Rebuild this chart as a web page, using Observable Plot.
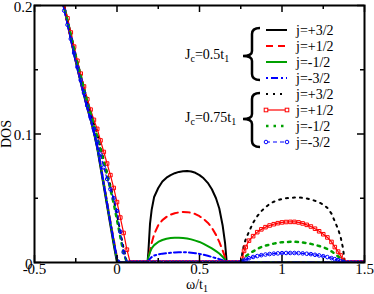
<!DOCTYPE html>
<html><head><meta charset="utf-8">
<script src="https://cdn.jsdelivr.net/npm/d3@7"></script>
<script src="https://cdn.jsdelivr.net/npm/@observablehq/plot@0.6"></script>
<style>
html,body{margin:0;padding:0;background:#fff;}
#chart{position:relative;width:374px;height:294px;}
</style></head><body><div id="chart"></div>
<script>
// ---------- data ----------
const omegaLeft = [-0.36,-0.34,-0.32,-0.30,-0.28,-0.26,-0.24,-0.22,-0.20,-0.18,-0.16,-0.14,-0.12,-0.10,-0.08,-0.06,-0.04,-0.02,0.00,0.02,0.04,0.06,0.08];
const omegaDomeA = [0.185,0.19,0.20,0.21,0.225,0.25,0.275,0.30,0.325,0.35,0.375,0.40,0.425,0.45,0.475,0.50,0.525,0.55,0.575,0.60,0.62,0.64,0.655,0.665];
const omegaDomeB = [0.753,0.76,0.77,0.78,0.80,0.825,0.85,0.875,0.90,0.925,0.95,0.975,1.00,1.025,1.05,1.075,1.10,1.125,1.15,1.175,1.20,1.225,1.25,1.275,1.30,1.32,1.34,1.355,1.37,1.38];
const omegaGap = [0.10,0.12,0.14,0.16,0.18,0.20,0.22,0.24,0.26,0.28,0.30,0.32,0.34,0.36,0.38,0.40,0.42,0.44,0.46,0.48,0.50,0.52,0.54,0.56,0.58,0.60,0.62,0.64,0.66,0.68,0.70,0.72,0.74];
const omegaTail = [1.40,1.42,1.44,1.46,1.48,1.50];

// Jc = 0.5 t1
const left05_p32 = [0.218,0.208,0.198,0.186,0.174,0.162,0.151,0.140,0.130,0.120,0.111,0.101,0.089,0.074,0.059,0.044,0.029,0.014,0,0,0,0,0];
const left05_p12 = [0.219,0.209,0.199,0.187,0.175,0.163,0.152,0.141,0.131,0.121,0.112,0.102,0.091,0.077,0.062,0.047,0.032,0.018,0.004,0,0,0,0];
const left05_m12 = [0.219,0.209,0.199,0.187,0.175,0.163,0.152,0.141,0.131,0.121,0.112,0.102,0.090,0.076,0.061,0.046,0.031,0.016,0.002,0,0,0,0];
const left05_m32 = [0.218,0.208,0.198,0.186,0.174,0.162,0.151,0.140,0.130,0.120,0.111,0.101,0.090,0.076,0.061,0.046,0.031,0.017,0.003,0,0,0,0];
const dome05_p32 = [0,0.008,0.030,0.041,0.051,0.058,0.063,0.066,0.068,0.0695,0.0705,0.071,0.0712,0.0708,0.0698,0.068,0.0655,0.062,0.057,0.050,0.042,0.029,0.015,0];
const dome05_p12 = [0,0.004,0.009,0.015,0.022,0.029,0.033,0.0355,0.0372,0.0383,0.039,0.0393,0.0392,0.0387,0.0377,0.036,0.0338,0.031,0.027,0.0215,0.016,0.0095,0.004,0];
const dome05_m12 = [0,0.004,0.008,0.011,0.0135,0.016,0.0175,0.0185,0.019,0.0193,0.0193,0.0191,0.0187,0.018,0.017,0.016,0.0145,0.0128,0.011,0.0088,0.007,0.0045,0.002,0];
const dome05_m32 = [0,0.0015,0.003,0.0042,0.0054,0.0063,0.0069,0.0073,0.0076,0.0078,0.0079,0.008,0.0079,0.0076,0.0072,0.0067,0.006,0.0052,0.0043,0.0034,0.0026,0.0017,0.0008,0];

// Jc = 0.75 t1
const left075_p32 = [0.220,0.210,0.200,0.189,0.178,0.167,0.156,0.146,0.136,0.126,0.117,0.108,0.100,0.090,0.080,0.070,0.060,0.049,0.037,0.024,0.011,0,0];
const left075_p12 = [0.221,0.211,0.201,0.190,0.179,0.168,0.157,0.147,0.137,0.127,0.119,0.111,0.104,0.095,0.086,0.077,0.068,0.058,0.047,0.035,0.023,0.010,0];
const left075_m12 = [0.219,0.209,0.199,0.188,0.177,0.166,0.155,0.145,0.135,0.125,0.116,0.107,0.098,0.088,0.078,0.068,0.057,0.046,0.033,0.020,0.007,0,0];
const left075_m32 = [0.216,0.206,0.196,0.185,0.174,0.163,0.152,0.142,0.132,0.122,0.113,0.104,0.094,0.084,0.074,0.065,0.057,0.050,0.040,0.024,0.008,0,0];
const dome075_p32 = [0,0.008,0.014,0.018,0.024,0.031,0.036,0.040,0.043,0.0456,0.0473,0.0485,0.0494,0.050,0.0503,0.0505,0.0506,0.0503,0.0498,0.049,0.048,0.0468,0.045,0.0425,0.038,0.032,0.026,0.020,0.011,0];
const dome075_p12 = [0,0.003,0.009,0.012,0.017,0.0205,0.0236,0.0258,0.0275,0.0288,0.0298,0.0306,0.0312,0.0315,0.0316,0.0316,0.0312,0.0304,0.0293,0.028,0.0263,0.0243,0.022,0.0195,0.016,0.012,0.0085,0.0055,0.002,0];
const dome075_m12 = [0,0.0015,0.0035,0.0048,0.0068,0.0087,0.0105,0.012,0.0131,0.0139,0.0147,0.0154,0.0158,0.016,0.0161,0.0161,0.016,0.0156,0.0151,0.0145,0.0137,0.0128,0.0119,0.0105,0.0087,0.0068,0.0047,0.003,0.0013,0];
const dome075_m32 = [0,0.0005,0.0015,0.0022,0.0033,0.0043,0.005,0.0057,0.0062,0.0066,0.0069,0.0071,0.0073,0.0074,0.0074,0.0074,0.0073,0.0071,0.0068,0.0065,0.006,0.0055,0.0049,0.0042,0.0034,0.0026,0.0018,0.0011,0.0005,0];

const xTicksMajor = [-0.5, 0, 0.5, 1, 1.5];
const xTicksMinor = [-0.25, 0.25, 0.75, 1.25];
const yTicksMajor = [0, 0.1, 0.2];
const yTicksMinor = [0.05, 0.15];
const jLabels = ["j=+3/2", "j=+1/2", "j=-1/2", "j=-3/2"];
const groupLabels = [["J","c","=0.5t","1"], ["J","c","=0.75t","1"]];

// ---------- build tables ----------
const pts = (ws, ds) => ws.map((w, i) => ({w, d: ds[i]}));
const zeros = ws => ws.map(w => ({w, d: 0}));
const s05 = (left, dome) => [...pts(omegaLeft, left), ...pts(omegaDomeA, dome), {w: 1.5, d: 0}];
const s075 = (left, dome) => [...pts(omegaLeft, left), ...zeros(omegaGap), ...pts(omegaDomeB, dome), ...zeros(omegaTail)];

const A_p32 = s05(left05_p32, dome05_p32);
const A_p12 = s05(left05_p12, dome05_p12);
const A_m12 = s05(left05_m12, dome05_m12);
const A_m32 = s05(left05_m32, dome05_m32);
const B_p32 = s075(left075_p32, dome075_p32);
const B_p12 = s075(left075_p12, dome075_p12);
const B_m12 = s075(left075_m12, dome075_m12);
const B_m32 = s075(left075_m32, dome075_m32);

const W = 374, H = 294, mL = 34, mR = 10, mT = 5, mB = 32;
const fw = W - mL - mR, fh = H - mT - mB;
const RED = "#ff0000", GREEN = "#00a000", BLUE = "#0000ff";
const FONT = "Liberation Serif, Times New Roman, serif";

const L = (data, o) => Plot.line(data, {x: "w", y: "d", clip: true, strokeLinejoin: "round", ...o});

const plot = Plot.plot({
  width: W, height: H,
  marginLeft: mL, marginRight: mR, marginTop: mT, marginBottom: mB,
  style: {fontFamily: FONT, fontSize: "15px", background: "#fff", color: "#000"},
  x: {domain: [-0.5, 1.5]},
  y: {domain: [0, 0.2]},
  marks: [
    L(A_p32, {stroke: "#000", strokeWidth: 2}),
    L(A_p12, {stroke: RED, strokeWidth: 2, strokeDasharray: "7,5"}),
    L(A_m12, {stroke: GREEN, strokeWidth: 2}),
    L(A_m32, {stroke: BLUE, strokeWidth: 2, strokeDasharray: "7,3,2,3"}),
    L(B_p32, {stroke: "#000", strokeWidth: 2, strokeDasharray: "2,5"}),
    L(B_p12, {stroke: RED, strokeWidth: 1.2}),
    Plot.dot(B_p12, {x: "w", y: "d", symbol: "square", r: 2, stroke: RED, strokeWidth: 1, fill: "none", clip: true}),
    L(B_m12, {stroke: GREEN, strokeWidth: 2.5, strokeDasharray: "2.5,5"}),
    L(B_m32, {stroke: BLUE, strokeWidth: 1.2, strokeDasharray: "4,3"}),
    Plot.dot(B_m32, {x: "w", y: "d", r: 1.8, stroke: BLUE, strokeWidth: 1, fill: "none", clip: true}),
    Plot.frame({stroke: "#000", strokeWidth: 2}),
    Plot.ruleX(xTicksMajor, {x: d => d, insetTop: fh - 7, strokeWidth: 1.5}),
    Plot.ruleX(xTicksMajor, {x: d => d, insetBottom: fh - 7, strokeWidth: 1.5}),
    Plot.ruleX(xTicksMinor, {x: d => d, insetTop: fh - 4, strokeWidth: 1.5}),
    Plot.ruleX(xTicksMinor, {x: d => d, insetBottom: fh - 4, strokeWidth: 1.5}),
    Plot.ruleY(yTicksMajor, {y: d => d, insetRight: fw - 7, strokeWidth: 1.5}),
    Plot.ruleY(yTicksMajor, {y: d => d, insetLeft: fw - 7, strokeWidth: 1.5}),
    Plot.ruleY(yTicksMinor, {y: d => d, insetRight: fw - 4, strokeWidth: 1.5}),
    Plot.ruleY(yTicksMinor, {y: d => d, insetLeft: fw - 4, strokeWidth: 1.5}),
    Plot.axisX({ticks: xTicksMajor, tickSize: 0, tickPadding: 1, tickFormat: d => String(d), fontSize: 15, label: null}),
    Plot.axisY({ticks: yTicksMajor, tickSize: 0, tickPadding: 2, dy: 1.5, tickFormat: d => String(d), fontSize: 15, label: null})
  ]
});
document.getElementById("chart").appendChild(plot);

// ---------- axis titles & legend ----------
const svg = d3.select(plot);
svg.append("text").attr("transform", "translate(11,134) rotate(-90)")
  .attr("text-anchor", "middle").attr("font-family", FONT).attr("font-size", 14).text("DOS");
const xt = svg.append("text").attr("x", 197).attr("y", 289).attr("text-anchor", "middle")
  .attr("font-family", FONT).attr("font-size", 14);
xt.append("tspan").text("ω/t");
xt.append("tspan").attr("font-size", 10).attr("dy", 3).text("1");

const lg = svg.append("g").attr("font-family", FONT).attr("font-size", 14).attr("text-anchor", "start");
const rowY = [30, 46, 62, 78, 94, 110, 126, 142];
const styles = [
  {stroke: "#000", w: 2, dash: null},
  {stroke: RED, w: 2, dash: "7,5"},
  {stroke: GREEN, w: 2, dash: null},
  {stroke: BLUE, w: 2, dash: "2,3,7,3"},
  {stroke: "#000", w: 2, dash: "2,5"},
  {stroke: RED, w: 1.2, dash: null, sym: "square"},
  {stroke: GREEN, w: 2.5, dash: "2.5,5"},
  {stroke: BLUE, w: 1.2, dash: "4,3", sym: "circle"}
];
styles.forEach((s, i) => {
  const y = rowY[i];
  lg.append("line").attr("x1", 266).attr("x2", 287).attr("y1", y).attr("y2", y)
    .attr("stroke", s.stroke).attr("stroke-width", s.w).attr("stroke-dasharray", s.dash);
  if (s.sym === "square") [266, 287].forEach(x => lg.append("rect").attr("x", x - 1.8).attr("y", y - 1.8).attr("width", 3.6).attr("height", 3.6).attr("fill", "#fff").attr("stroke", s.stroke));
  if (s.sym === "circle") [266, 287].forEach(x => lg.append("circle").attr("cx", x).attr("cy", y).attr("r", 1.8).attr("fill", "#fff").attr("stroke", s.stroke));
  lg.append("text").attr("x", 296).attr("y", y).attr("dy", "0.35em").text(jLabels[i % 4]);
});
[[56, 28, 80], [119, 93, 147]].forEach(([ym, y0, y1], g) => {
  lg.append("path").attr("fill", "none").attr("stroke", "#000").attr("stroke-width", 2.5)
    .attr("d", `M260,${y0} Q252,${y0} 252,${y0 + 6} L252,${ym - 5} Q252,${ym} 243,${ym} Q252,${ym} 252,${ym + 5} L252,${y1 - 6} Q252,${y1} 260,${y1}`);
  const t = lg.append("text").attr("x", 185).attr("y", ym + 3);
  const [a, b, c, d] = groupLabels[g];
  t.append("tspan").text(a);
  t.append("tspan").attr("font-size", 10).attr("dy", 3).text(b);
  t.append("tspan").attr("dy", -3).text(c);
  t.append("tspan").attr("font-size", 10).attr("dy", 3).text(d);
});
</script></body></html>
